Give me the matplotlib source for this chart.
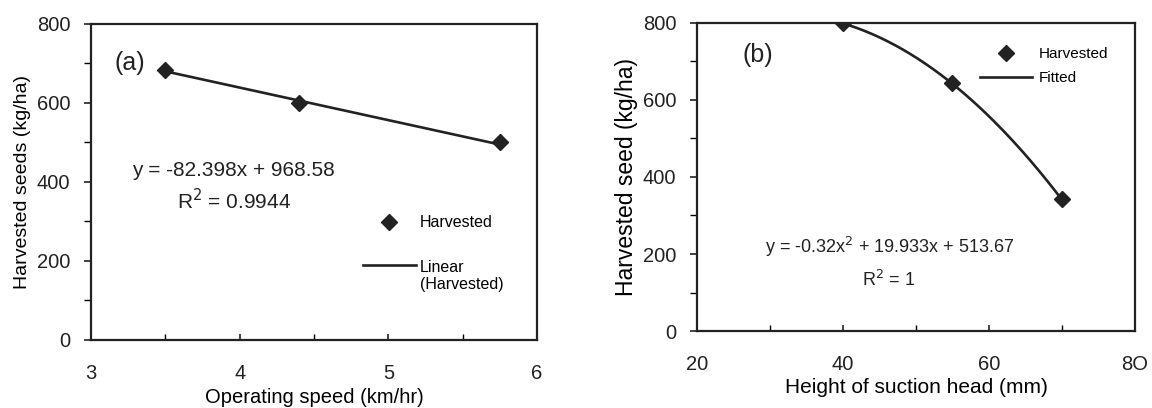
import numpy as np
import matplotlib
matplotlib.use("Agg")
import matplotlib.pyplot as plt
from matplotlib.ticker import MultipleLocator

plt.rcParams["font.family"] = ["Liberation Sans", "DejaVu Sans"]

# (a) Ernte vs. Fahrgeschwindigkeit
speed = [3.5, 4.4, 5.75]
seeds_a = [683, 600, 500]
lin_coef = [-82.398, 968.58]

# (b) Ernte vs. Saugkopfhöhe
height = [40, 55, 70]
seeds_b = [800, 644, 342]
quad_coef = [-0.32, 19.933, 513.67]

INK = "#222222"

fig = plt.figure(figsize=(11.52, 4.08), dpi=100)
ax1 = fig.add_axes([0.079, 0.1667, 0.3872, 0.7745])
ax2 = fig.add_axes([0.605, 0.1887, 0.3802, 0.755])

# --- Panel (a) ---
ax1.plot(speed, seeds_a, "D", color=INK, markersize=8, zorder=3, label="Harvested")
xs = np.array([speed[0], speed[-1]])
ax1.plot(xs, np.polyval(lin_coef, xs), "-", color=INK, lw=1.9,
         label="Linear\n(Harvested)")
ax1.set_xlim(3, 6)
ax1.set_ylim(0, 800)
ax1.xaxis.set_major_locator(MultipleLocator(1))
ax1.xaxis.set_minor_locator(MultipleLocator(0.5))
ax1.yaxis.set_major_locator(MultipleLocator(200))
ax1.yaxis.set_minor_locator(MultipleLocator(100))
ax1.set_xlabel("Operating speed (km/hr)", fontsize=14.5, labelpad=4)
ax1.set_ylabel("Harvested seeds (kg/ha)", fontsize=14, labelpad=4)
ax1.text(3.26, 701, "(a)", fontsize=18, ha="center", va="center", color=INK)
ax1.text(3.96, 430, "y = -82.398x + 968.58", fontsize=15, ha="center", va="center", color=INK)
ax1.text(3.96, 354, "R$^2$ = 0.9944", fontsize=15, ha="center", va="center", color=INK)
leg1 = ax1.legend(loc="upper left", bbox_to_anchor=(0.5955, 0.415), frameon=False,
                  fontsize=11.5, labelspacing=1.84, handlelength=3.3, handletextpad=0.25,
                  borderaxespad=0)
# Linie auf Höhe der ersten Textzeile ("Linear") schieben
ln = leg1.legend_handles[1]
ln.set_ydata(np.asarray(ln.get_ydata()) + 8)

# --- Panel (b) ---
ax2.plot(height, seeds_b, "D", color=INK, markersize=8, zorder=3, label="Harvested")
hx = np.linspace(height[0], height[-1], 200)
ax2.plot(hx, np.polyval(quad_coef, hx), "-", color=INK, lw=1.9, label="Fitted")
ax2.set_xlim(20, 80)
ax2.set_ylim(0, 800)
ax2.set_xticks([20, 40, 60, 80])
ax2.set_xticklabels(["20", "40", "60", "8O"])
ax2.xaxis.set_minor_locator(MultipleLocator(10))
ax2.yaxis.set_major_locator(MultipleLocator(200))
ax2.yaxis.set_minor_locator(MultipleLocator(100))
ax2.set_xlabel("Height of suction head (mm)", fontsize=15, labelpad=3)
ax2.set_ylabel("Harvested seed (kg/ha)", fontsize=16.5, labelpad=3)
ax2.text(28.3, 717, "(b)", fontsize=18, ha="center", va="center", color=INK)
ax2.text(46.4, 218, "y = -0.32x$^2$ + 19.933x + 513.67", fontsize=13, ha="center", va="center", color=INK)
ax2.text(46.2, 133, "R$^2$ = 1", fontsize=13, ha="center", va="center", color=INK)
ax2.legend(loc="upper left", bbox_to_anchor=(0.633, 0.942), frameon=False,
           fontsize=11, labelspacing=0.65, handlelength=3.4, handletextpad=0.4,
           borderaxespad=0)

for ax in (ax1, ax2):
    for sp in ax.spines.values():
        sp.set_linewidth(1.6)
        sp.set_color(INK)
    ax.tick_params(axis="both", which="major", labelsize=14.5, colors=INK, width=1.2)
    ax.tick_params(axis="x", which="both", direction="in", length=4, pad=17)
    ax.tick_params(axis="y", which="both", direction="out", length=5, pad=10)
    ax.tick_params(axis="both", which="minor", width=1)

fig.savefig("out.png", dpi=100)
